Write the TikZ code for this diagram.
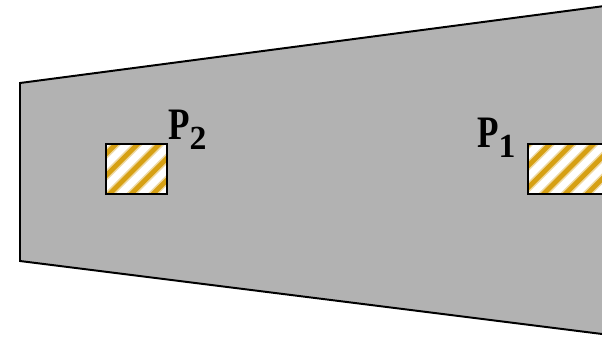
\documentclass[tikz,border=0pt]{standalone}
\usepackage{fontspec}
\setmainfont{Liberation Serif}
\usetikzlibrary{positioning}
\definecolor{hatchgold}{RGB}{214,160,20}

\begin{document}
\begin{tikzpicture}[x=0.025cm, y=-0.025cm,
  hatch/.style={hatchgold, line width=3.4pt},
  hatchsoft/.style={hatchgold!40, line width=5.6pt},
  sensorbox/.style={draw=black, line width=1.4pt},
  plabel/.style={inner sep=0pt, anchor=base west, font=\bfseries\fontsize{32}{32}\selectfont}]
\useasboundingbox (0,0) rectangle (602,336);
\clip (0,0) rectangle (602,336);
% plate
\draw[draw=black, fill=black!30, line width=1.4pt] (20,83) -- (650,0) -- (650,340) -- (20,261) -- cycle;
% hatched patches
\begin{scope}
\clip (106,144) rectangle (167,194);
\fill[white] (106,144) rectangle (167,194);
\foreach \k in {-3,...,23} {
  \draw[hatchsoft] ({303.5+21.7*\k-210},210) -- ({303.5+21.7*\k-120},120);
  \draw[hatch] ({303.5+21.7*\k-210},210) -- ({303.5+21.7*\k-120},120);
}
\end{scope}
\draw[sensorbox] (106,144) rectangle (167,194);
\begin{scope}
\clip (528,144) rectangle (650,194);
\fill[white] (528,144) rectangle (650,194);
\foreach \k in {-3,...,23} {
  \draw[hatchsoft] ({303.5+21.7*\k-210},210) -- ({303.5+21.7*\k-120},120);
  \draw[hatch] ({303.5+21.7*\k-210},210) -- ({303.5+21.7*\k-120},120);
}
\end{scope}
\draw[sensorbox] (650,144) -- (528,144) -- (528,194) -- (650,194);
% labels
\node[plabel] (ptwo) at (168,139) {\scalebox{0.78}[1]{P}\raisebox{-7.2pt}{\fontsize{24}{24}\selectfont 2}};
\node[plabel] (pone) at (477,147) {\scalebox{0.78}[1]{P}\raisebox{-7.4pt}{\fontsize{24}{24}\selectfont 1}};
\end{tikzpicture}
\end{document}
